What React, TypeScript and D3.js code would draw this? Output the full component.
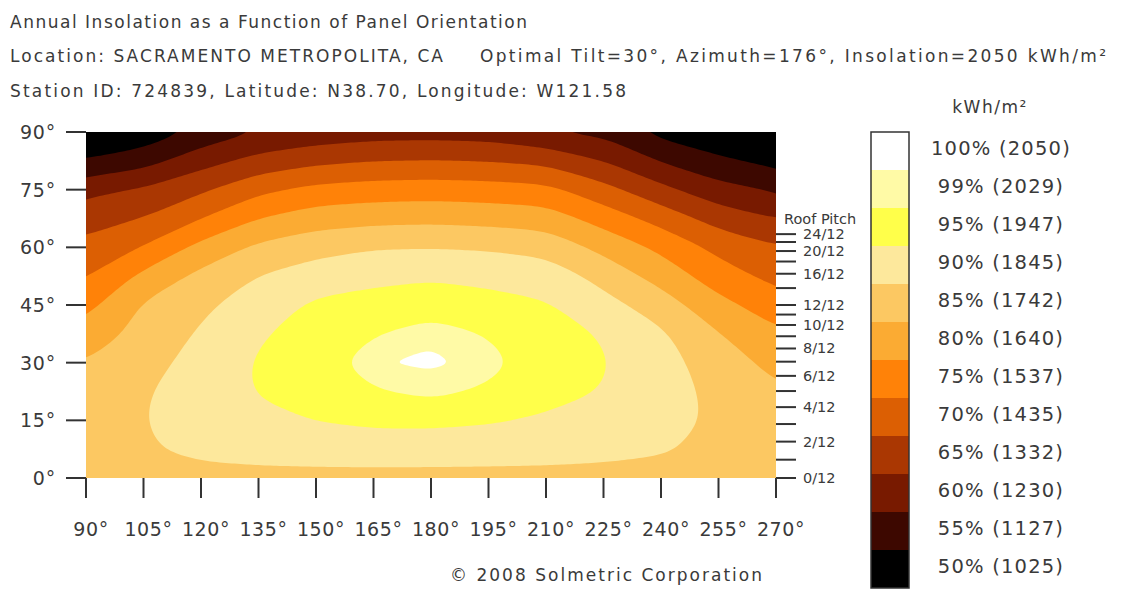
import React, { useEffect, useRef } from 'react';
import * as d3 from 'd3';

// grid of the chart: azimuth columns and tilt rows (top row = 90°)
const azimuths = [90, 105, 120, 135, 150, 165, 180, 195, 210, 225, 240, 255, 270];
const tilts = [90, 82.5, 75, 67.5, 60, 52.5, 45, 37.5, 30, 22.5, 15, 7.5, 0];

// % of optimal annual insolation, one array per tilt row
const tilt90 = [44.0, 46.5, 51.5, 55.2, 56.8, 57.8, 58.0, 57.6, 55.4, 53.8, 48.5, 46.0, 44.0];
const tilt82 = [50.5, 53.0, 58.0, 61.7, 63.8, 64.9, 65.2, 64.8, 63.7, 60.0, 54.7, 51.0, 48.5];
const tilt75 = [58.5, 60.5, 64.2, 68.8, 71.4, 72.3, 72.6, 72.2, 71.4, 66.7, 61.4, 56.8, 54.5];
const tilt67 = [63.2, 65.2, 70.0, 75.0, 77.7, 78.5, 78.8, 78.3, 77.6, 72.9, 68.1, 62.9, 60.0];
const tilt60 = [66.3, 70.4, 76.5, 81.0, 83.2, 84.6, 84.8, 84.4, 83.2, 78.6, 73.9, 68.6, 65.4];
const tilt52 = [69.9, 76.2, 81.3, 85.1, 87.6, 88.9, 89.6, 88.9, 87.9, 83.3, 78.1, 72.4, 68.5];
const tilt45 = [73.5, 80.5, 84.0, 87.6, 90.8, 91.6, 91.8, 91.4, 90.4, 86.7, 82.5, 76.5, 72.5];
const tilt37 = [77.0, 81.7, 85.6, 89.4, 92.3, 94.6, 98.0, 94.6, 92.0, 89.6, 85.8, 80.2, 75.8];
const tilt30 = [80.2, 83.0, 87.0, 90.5, 91.8, 98.5, 100.0, 97.2, 91.5, 90.4, 86.9, 82.5, 78.5];
const tilt22 = [82.0, 84.5, 87.8, 90.3, 92.6, 94.5, 96.3, 94.0, 91.8, 89.8, 86.7, 84.0, 80.7];
const tilt15 = [83.0, 84.9, 87.6, 89.0, 90.1, 91.0, 91.1, 90.5, 89.3, 88.0, 86.4, 84.4, 82.0];
const tilt7 = [83.6, 84.6, 86.0, 86.8, 87.2, 87.4, 87.3, 87.1, 86.8, 86.2, 85.4, 84.0, 83.0];
const tilt0 = [83.6, 83.6, 83.6, 83.6, 83.6, 83.6, 83.6, 83.6, 83.6, 83.6, 83.6, 83.6, 83.6];

const insolationRows = [tilt90, tilt82, tilt75, tilt67, tilt60, tilt52, tilt45, tilt37, tilt30, tilt22, tilt15, tilt7, tilt0];

// legend, top to bottom
const legendPercents = [100, 99, 95, 90, 85, 80, 75, 70, 65, 60, 55, 50];
const legendKwh = [2050, 2029, 1947, 1845, 1742, 1640, 1537, 1435, 1332, 1230, 1127, 1025];
const legendColors = ['#ffffff', '#fffaa6', '#ffff4a', '#fde89c', '#fcc862', '#fbab33', '#ff8208', '#dc5f03', '#aa3702', '#781a00', '#3d0800', '#000000'];

const azimuthTicks = [90, 105, 120, 135, 150, 165, 180, 195, 210, 225, 240, 255, 270];
const tiltTicks = [0, 15, 30, 45, 60, 75, 90];
const pitchTicks = [0, 1, 2, 3, 4, 5, 6, 7, 8, 9, 10, 11, 12, 14, 16, 18, 20, 22, 24];
const pitchLabels = [0, 2, 4, 6, 8, 10, 12, 16, 20, 24];

const W = 1125;
const H = 590;
const plot = { left: 86, right: 776, top: 132, bottom: 478 };
const FONT = "'DejaVu Sans', Verdana, sans-serif";
const TEXT = '#3a3a3a';

type Pt = [number, number];

// even spacing along a closed ring
function resample(pts: Pt[], step: number): Pt[] {
  const out: Pt[] = [];
  let carry = 0;
  for (let i = 0; i < pts.length; i++) {
    const [x0, y0] = pts[i];
    const [x1, y1] = pts[(i + 1) % pts.length];
    const len = Math.hypot(x1 - x0, y1 - y0);
    let t = carry;
    while (t < len) {
      out.push([x0 + (x1 - x0) * t / len, y0 + (y1 - y0) * t / len]);
      t += step;
    }
    carry = t - len;
  }
  return out;
}

// repeated [1 2 1] passes round the ring
function smoothRing(pts: Pt[], passes: number): Pt[] {
  let cur = pts;
  for (let k = 0; k < passes; k++) {
    const n = cur.length;
    cur = cur.map((p, i) => {
      const a = cur[(i - 1 + n) % n];
      const b = cur[(i + 1) % n];
      return [(a[0] + 2 * p[0] + b[0]) / 4, (a[1] + 2 * p[1] + b[1]) / 4] as Pt;
    });
  }
  return cur;
}

export default function App() {
  const svgRef = useRef<SVGSVGElement>(null);

  useEffect(() => {
    const svg = d3.select(svgRef.current);
    svg.selectAll('*').remove();

    svg.append('rect').attr('width', W).attr('height', H).attr('fill', '#ffffff');

    const x = d3.scaleLinear().domain([90, 270]).range([plot.left, plot.right]);
    const y = d3.scaleLinear().domain([0, 90]).range([plot.bottom, plot.top]);

    const nx = azimuths.length;
    const ny = tilts.length;
    // grid space -> degrees (each value sits in the middle of its cell)
    const gxToAz = d3.scaleLinear().domain([0.5, nx - 0.5]).range([azimuths[0], azimuths[nx - 1]]);
    const gyToTilt = d3.scaleLinear().domain([0.5, ny - 0.5]).range([tilts[0], tilts[ny - 1]]);

    // ring points on the grid border are pushed well outside the clipped plot
    const OUT = 60;
    const px = (gx: number) => gx === 0 ? plot.left - OUT : gx === nx ? plot.right + OUT : x(gxToAz(gx));
    const py = (gy: number) => gy === 0 ? plot.top - OUT : gy === ny ? plot.bottom + OUT : y(gyToTilt(gy));

    const colorOf = (p: number) => legendColors[legendPercents.indexOf(p)];
    const ascending = legendPercents.slice().reverse(); // 50 .. 100
    const levels = ascending.slice(0, -1); // 50 .. 99

    const contours = d3.contours()
      .size([nx, ny])
      .thresholds(levels)(insolationRows.flat());

    const line = d3.line<Pt>().curve(d3.curveLinearClosed);
    const step = 3;
    const toPath = (coords: number[][][][]) =>
      coords.map(poly => poly.map(ring => {
        const pts = ring.slice(0, -1).map(([gx, gy]) => [px(gx), py(gy)] as Pt);
        const even = resample(pts, step);
        const perimeter = even.length * step;
        const sigma = Math.min(14, perimeter / 14);
        return line(smoothRing(even, Math.round(2 * (sigma / step) ** 2)));
      }).join('')).join('');

    svg.append('clipPath').attr('id', 'plot-clip')
      .append('rect')
      .attr('x', plot.left).attr('y', plot.top)
      .attr('width', plot.right - plot.left).attr('height', plot.bottom - plot.top);

    const g = svg.append('g').attr('clip-path', 'url(#plot-clip)');
    g.append('rect')
      .attr('x', plot.left).attr('y', plot.top)
      .attr('width', plot.right - plot.left).attr('height', plot.bottom - plot.top)
      .attr('fill', colorOf(ascending[0]));

    contours.forEach((c, i) => {
      if (!c.coordinates.length) return;
      g.append('path')
        .attr('d', toPath(c.coordinates as any))
        .attr('fill', colorOf(ascending[i + 1]))
        .attr('fill-rule', 'evenodd');
    });

    // titles
    const titles = [
      { text: 'Annual Insolation as a Function of Panel Orientation', x: 10, y: 28, len: 517 },
      { text: 'Location: SACRAMENTO METROPOLITA, CA', x: 10, y: 62, len: 433 },
      { text: 'Optimal Tilt=30°, Azimuth=176°, Insolation=2050 kWh/m²', x: 480, y: 62, len: 626 },
      { text: 'Station ID: 724839, Latitude: N38.70, Longitude: W121.58', x: 10, y: 97, len: 616 }
    ];
    titles.forEach(t => {
      svg.append('text')
        .attr('x', t.x).attr('y', t.y)
        .attr('textLength', t.len).attr('lengthAdjust', 'spacing')
        .attr('font-family', FONT).attr('font-size', 17).attr('fill', TEXT)
        .text(t.text);
    });

    // left axis (tilt)
    const ax = svg.append('g').attr('stroke', '#333').attr('stroke-width', 2);
    tiltTicks.forEach(t => {
      ax.append('line').attr('x1', 66).attr('x2', plot.left).attr('y1', y(t)).attr('y2', y(t));
    });
    svg.append('g').selectAll('text').data(tiltTicks).enter().append('text')
      .attr('x', 56).attr('y', d => y(d))
      .attr('text-anchor', 'end').attr('dominant-baseline', 'central')
      .attr('font-family', FONT).attr('font-size', 19).attr('letter-spacing', 0.8).attr('fill', TEXT)
      .text(d => `${d}°`);

    // bottom axis (azimuth)
    azimuthTicks.forEach(a => {
      ax.append('line').attr('x1', x(a)).attr('x2', x(a)).attr('y1', plot.bottom).attr('y2', plot.bottom + 20);
    });
    svg.append('g').selectAll('text').data(azimuthTicks).enter().append('text')
      .attr('x', d => x(d) + 5).attr('y', 536)
      .attr('text-anchor', 'middle')
      .attr('font-family', FONT).attr('font-size', 19).attr('letter-spacing', 0.6).attr('fill', TEXT)
      .text(d => `${d}°`);

    // roof pitch axis on the right
    pitchTicks.forEach(p => {
      const ty = y(Math.atan(p / 12) * 180 / Math.PI);
      ax.append('line').attr('x1', plot.right).attr('x2', plot.right + 20).attr('y1', ty).attr('y2', ty);
    });
    svg.append('g').selectAll('text').data(pitchLabels).enter().append('text')
      .attr('x', 803).attr('y', d => y(Math.atan(d / 12) * 180 / Math.PI))
      .attr('dominant-baseline', 'central')
      .attr('font-family', FONT).attr('font-size', 14.5).attr('fill', TEXT)
      .text(d => `${d}/12`);
    svg.append('text')
      .attr('x', 784).attr('y', 224)
      .attr('font-family', FONT).attr('font-size', 14.5).attr('fill', TEXT)
      .text('Roof Pitch');

    // legend
    const lg = { x: 871, top: 132, w: 38, h: 38 };
    svg.append('text')
      .attr('x', 990).attr('y', 113)
      .attr('text-anchor', 'middle')
      .attr('font-family', FONT).attr('font-size', 17).attr('letter-spacing', 1.5).attr('fill', TEXT)
      .text('kWh/m²');
    legendPercents.forEach((p, i) => {
      svg.append('rect')
        .attr('x', lg.x).attr('y', lg.top + i * lg.h)
        .attr('width', lg.w).attr('height', lg.h)
        .attr('fill', legendColors[i]);
      svg.append('text')
        .attr('x', 1001).attr('y', lg.top + i * lg.h + lg.h / 2 - 3)
        .attr('text-anchor', 'middle').attr('dominant-baseline', 'central')
        .attr('font-family', FONT).attr('font-size', 19.5).attr('letter-spacing', 1.2).attr('fill', TEXT)
        .text(`${p}% (${legendKwh[i]})`);
    });
    svg.append('rect')
      .attr('x', lg.x).attr('y', lg.top)
      .attr('width', lg.w).attr('height', lg.h * legendPercents.length)
      .attr('fill', 'none').attr('stroke', '#333').attr('stroke-width', 1.5);

    svg.append('text')
      .attr('x', 606).attr('y', 581)
      .attr('text-anchor', 'middle')
      .attr('textLength', 312).attr('lengthAdjust', 'spacing')
      .attr('font-family', FONT).attr('font-size', 17).attr('fill', TEXT)
      .text('© 2008 Solmetric Corporation');
  }, []);

  return (
    <div style={{ position: 'absolute', left: 0, top: 0, width: W, height: H }}>
      <svg ref={svgRef} width={W} height={H} style={{ display: 'block' }} />
    </div>
  );
}
